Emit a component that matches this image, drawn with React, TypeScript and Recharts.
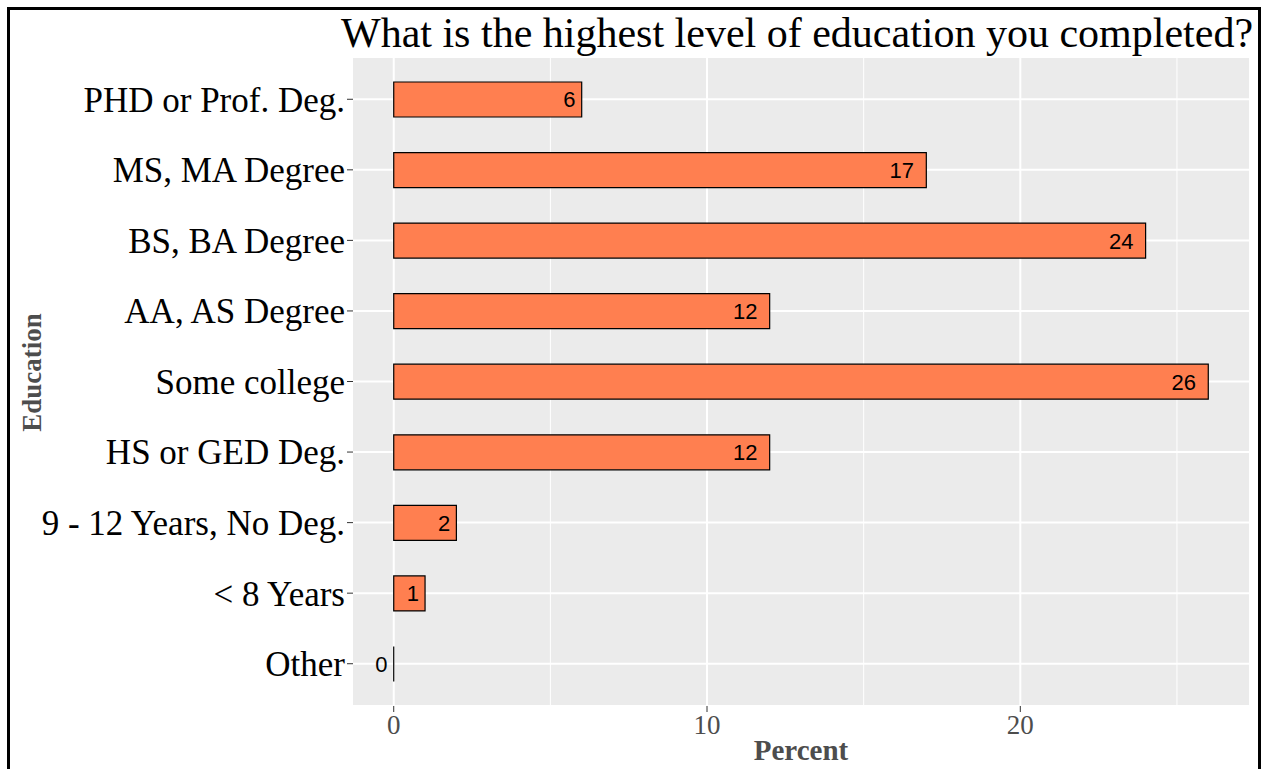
import { Bar, BarChart, CartesianGrid, LabelList, XAxis, YAxis } from "recharts";

// Survey responses, percent of respondents per education level (top to bottom).
const CATEGORIES = [
  "PHD or Prof. Deg.",
  "MS, MA Degree",
  "BS, BA Degree",
  "AA, AS Degree",
  "Some college",
  "HS or GED Deg.",
  "9 - 12 Years, No Deg.",
  "< 8 Years",
  "Other",
];
const PERCENT = [6, 17, 24, 12, 26, 12, 2, 1, 0];
const MAJOR_TICKS = [0, 10, 20];
const MINOR_TICKS = [5, 15, 25];
const X_DOMAIN: [number, number] = [-1.3, 27.3];

const TITLE = "What is the highest level of education you completed?";
const SERIF = '"Times New Roman", "Liberation Serif", serif';
const SANS = 'Arial, "Liberation Sans", sans-serif';
const LABEL_SIZE = 22;

const data = CATEGORIES.map((name, i) => ({ name, value: PERCENT[i] }));

// grid lines at given x values, through the axis scale when we have it
const gridAt = (values: number[]) => (props: any) => {
  const { xAxis, offset } = props;
  if (xAxis && typeof xAxis.scale === "function") {
    return values.map((v) => xAxis.scale(v));
  }
  const [d0, d1] = X_DOMAIN;
  return values.map((v) => offset.left + ((v - d0) / (d1 - d0)) * offset.width);
};

const BarShape = (p: any) => {
  const { x, y, width, height } = p;
  return (
    <path
      d={`M${x},${y}h${width}v${height}h${-width}Z`}
      fill="#FF7F50"
      stroke="#000"
      strokeWidth={1.2}
    />
  );
};

// like hjust = 1.5: right edge sits half a label width inside the bar end
const BarLabel = (p: any) => {
  const { x, y, width, height, value } = p;
  const textW = String(value).length * 0.556 * LABEL_SIZE;
  return (
    <text
      x={x + width - textW / 2}
      y={y + height / 2}
      dy="0.36em"
      textAnchor="end"
      fontFamily={SANS}
      fontSize={LABEL_SIZE}
      fill="#000"
    >
      {value}
    </text>
  );
};

export default function App() {
  return (
    <div
      style={{
        position: "fixed",
        left: 0,
        top: 0,
        width: 1265,
        height: 769,
        overflow: "hidden",
        background: "#fff",
      }}
    >
      <BarChart
        width={1265}
        height={769}
        data={data}
        layout="vertical"
        margin={{ top: 57, right: 16, bottom: 0, left: 0 }}
        barSize={35}
      >
        <CartesianGrid
          fill="#EBEBEB"
          stroke="#fff"
          strokeWidth={2}
          verticalCoordinatesGenerator={gridAt(MAJOR_TICKS)}
        />
        <CartesianGrid
          stroke="#fff"
          strokeWidth={1}
          horizontal={false}
          verticalCoordinatesGenerator={gridAt(MINOR_TICKS)}
        />
        <XAxis
          type="number"
          domain={X_DOMAIN}
          ticks={MAJOR_TICKS}
          allowDataOverflow
          height={63}
          axisLine={false}
          tickLine={{ stroke: "#333" }}
          tickSize={6}
          tickMargin={3}
          tick={{ fontFamily: SERIF, fontSize: 27, fill: "#4D4D4D" }}
          label={{
            content: ({ viewBox }: any) => (
              <text
                x={viewBox.x + viewBox.width / 2}
                y={viewBox.y + 54}
                textAnchor="middle"
                fontFamily={SERIF}
                fontWeight="bold"
                fontSize={29}
                fill="#4D4D4D"
              >
                Percent
              </text>
            ),
          }}
        />
        <YAxis
          type="category"
          dataKey="name"
          width={353}
          padding={{ top: 7, bottom: 7 }}
          axisLine={false}
          tickLine={{ stroke: "#333" }}
          tickSize={6}
          tickMargin={2}
          interval={0}
          tick={{ fontFamily: SERIF, fontSize: 35, fill: "#000" }}
          label={{
            content: ({ viewBox }: any) => {
              const cx = viewBox.x + 41;
              const cy = viewBox.y + viewBox.height / 2 - 9;
              return (
                <text
                  x={cx}
                  y={cy}
                  transform={`rotate(-90 ${cx} ${cy})`}
                  textAnchor="middle"
                  fontFamily={SERIF}
                  fontWeight="bold"
                  fontSize={27}
                  fill="#4D4D4D"
                >
                  Education
                </text>
              );
            },
          }}
        />
        <Bar dataKey="value" shape={BarShape} isAnimationActive={false}>
          <LabelList dataKey="value" content={BarLabel} />
        </Bar>
      </BarChart>
      <svg
        width={1265}
        height={60}
        style={{ position: "absolute", left: 0, top: 0 }}
      >
        <text x={341} y={47} fontFamily={SERIF} fontSize={42} fill="#000">
          {TITLE}
        </text>
      </svg>
      <div
        style={{
          position: "absolute",
          left: 7,
          top: 7,
          width: 1248,
          height: 800,
          border: "3px solid #000",
          pointerEvents: "none",
        }}
      />
    </div>
  );
}
